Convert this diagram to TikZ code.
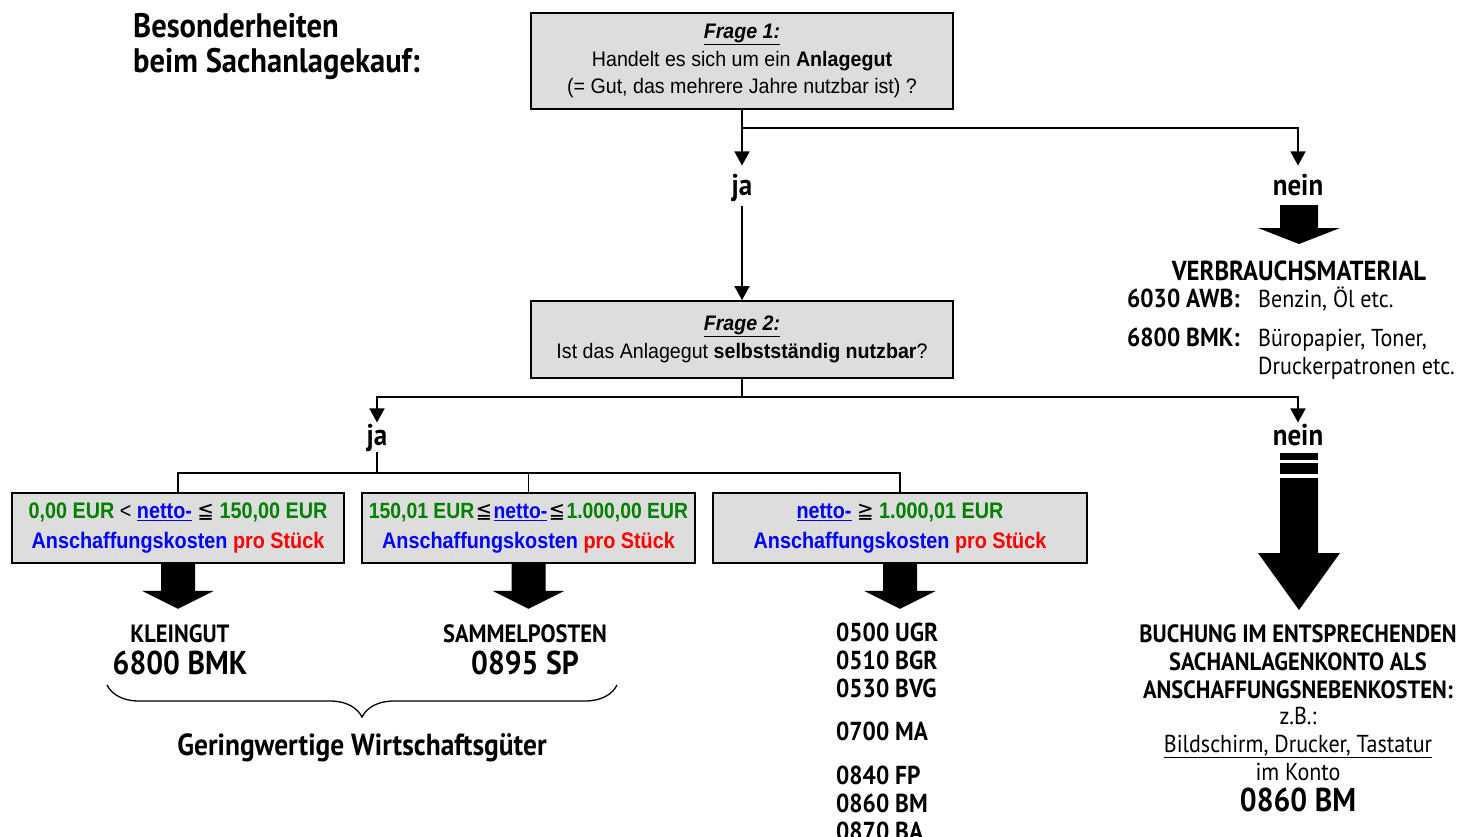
\documentclass[tikz,border=0pt]{standalone}
\usepackage{fontspec}
\setmainfont{Liberation Sans}[FakeStretch=0.88]
\newfontfamily\qfont{Liberation Sans}[FakeStretch=0.935]
\newfontfamily\cond{PT Sans}[FakeStretch=0.9]
\newfontfamily\sym{DejaVu Sans}[FakeStretch=0.88]
\usetikzlibrary{arrows.meta,calc,decorations.pathreplacing}
\definecolor{boxgray}{HTML}{DDDDDD}
\definecolor{mygreen}{HTML}{008000}
\definecolor{myblue}{HTML}{0000FF}
\definecolor{myred}{HTML}{FF0000}
\newcommand\uline[1]{\underline{#1}}
\begin{document}
\begin{tikzpicture}[x=1pt,y=-1pt,
  qbox/.style={draw,line width=1.6pt,fill=boxgray,align=center,inner sep=0pt,
     font=\qfont\fontsize{21}{27.5}\selectfont},
  cbox/.style={draw,line width=1.6pt,fill=boxgray,align=center,inner sep=0pt,
     minimum height=70pt,font=\bfseries\fontsize{22.5}{29.5}\selectfont},
  conn/.style={line width=1.6pt},
  arr/.style={conn,-{Triangle[length=14pt,width=15pt]}},
  lab/.style={font=\cond\bfseries\fontsize{30}{32}\selectfont,inner sep=0pt,anchor=base},
  title/.style={font=\cond\bfseries\fontsize{34}{36}\selectfont,inner sep=0pt,anchor=base west},
  head/.style={font=\cond\bfseries\fontsize{25}{28}\selectfont,inner sep=0pt,anchor=base},
  acc/.style={font=\cond\bfseries\fontsize{26}{28}\selectfont,inner sep=0pt,anchor=base west},
  plain/.style={font=\cond\fontsize{24.5}{28}\selectfont,inner sep=0pt,anchor=base west},
  big/.style={font=\cond\bfseries\fontsize{33}{36}\selectfont,inner sep=0pt,anchor=base},
  blk/.style={fill=black}
]
\useasboundingbox (0,0) rectangle (1473,836);

% title
\node[title] (t1) at (133,37) {Besonderheiten};
\node[title] (t2) at (133,72) {beim Sachanlagekauf:};

% question boxes
\node[qbox,minimum width=422pt,minimum height=96pt] (f1) at (742,61)
  {\textbf{\textit{\uline{Frage 1:}}}\\Handelt es sich um ein \textbf{Anlagegut}\\(= Gut, das mehrere Jahre nutzbar ist) ?};
\node[qbox,minimum width=422pt,minimum height=77pt] (f2) at (742,339.5)
  {\textbf{\textit{\uline{Frage 2:}}}\\Ist das Anlagegut \textbf{selbstständig nutzbar}?};

% level 1 labels
\node[lab] (ja1) at (742,195) {ja};
\node[lab] (nein1) at (1298,195) {nein};
\coordinate (c1) at (742,128);
\draw[arr,shorten >=8pt] (f1.south) -- (ja1.north);
\draw[arr,shorten >=8pt] (c1) -| (nein1.north);
\draw[arr] ($(ja1.south)+(0,5)$) -- (f2.north);

% nein 1 block arrow
\fill[blk] (1280,205) -- (1318,205) -- (1318,228) -- (1340,228) -- (1299,244)
  -- (1258,228) -- (1280,228) -- cycle;
\node[head,font=\cond\bfseries\fontsize{27.5}{30}\selectfont] (verb) at (1299,280) {VERBRAUCHSMATERIAL};
\node[acc] (a6030) at (1127,307) {6030 AWB:};
\node[plain] (benz) at (1258,307) {Benzin, Öl etc.};
\node[acc] (a6800) at (1127,346) {6800 BMK:};
\node[plain] (buero) at (1258,346) {Büropapier, Toner,};
\node[plain] (druck) at (1258,374) {Druckerpatronen etc.};

% level 2
\coordinate (c2) at (742,397);
\node[lab] (ja2) at (377,445) {ja};
\node[lab] (nein2) at (1298,445) {nein};
\draw[conn] (f2.south) -- (c2);
\draw[arr,shorten >=1pt] (c2) -| (ja2.north);
\draw[arr,shorten >=1pt] (c2) -| (nein2.north);

% category boxes
\node[cbox,minimum width=332pt] (b1) at (178,528)
  {\textcolor{mygreen}{0,00 EUR} {\mdseries <} \textcolor{myblue}{\uline{netto-}} {\sym\mdseries ≦} \textcolor{mygreen}{150,00 EUR}\\
   \textcolor{myblue}{Anschaffungskosten} \textcolor{myred}{pro Stück}};
\node[cbox,minimum width=333pt] (b2) at (528.5,528)
  {\fontsize{22}{29.5}\selectfont\textcolor{mygreen}{150,01 EUR}\hspace{1.5pt}{\sym\mdseries ≦}\hspace{1.5pt}\textcolor{myblue}{\uline{netto-}}\hspace{1.5pt}{\sym\mdseries ≦}\hspace{1.5pt}\textcolor{mygreen}{1.000,00 EUR}\\
   \fontsize{22.5}{29.5}\selectfont\textcolor{myblue}{Anschaffungskosten} \textcolor{myred}{pro Stück}};
\node[cbox,minimum width=374pt] (b3) at (900,528)
  {\textcolor{myblue}{\uline{netto-}} {\sym\mdseries ≧} \textcolor{mygreen}{1.000,01 EUR}\\
   \textcolor{myblue}{Anschaffungskosten} \textcolor{myred}{pro Stück}};
\draw[conn] ($(ja2.south)+(0,1)$) -- (377,474);
\draw[conn] (b1.north) -- ++(0,-19) -| (b3.north);
\draw[conn] (b2.north) -- ++(0,-19);

% block arrows under boxes
\foreach \n in {b1,b2,b3}{
  \fill[blk] ($(\n.south)+(-17,0)$) -- ($(\n.south)+(17,0)$) -- ($(\n.south)+(17,27)$)
    -- ($(\n.south)+(36,27)$) -- ($(\n.south)+(0,45)$) -- ($(\n.south)+(-36,27)$)
    -- ($(\n.south)+(-17,27)$) -- cycle;
}

% results
\node[head] (klein) at (180,642) {KLEINGUT};
\node[big] (k6800) at (180,674) {6800 BMK};
\node[head] (samm) at (525,642) {SAMMELPOSTEN};
\node[big] (s0895) at (525,674) {0895 SP};
\draw[line width=1.3pt,decorate,decoration={brace,mirror,amplitude=32pt,aspect=0.5}]
  (107,685) -- (617,685);
\node[big,font=\cond\bfseries\fontsize{30.5}{32}\selectfont] (gwg) at (362,755) {Geringwertige Wirtschaftsgüter};

\node[acc] (k0500) at (836,641) {0500 UGR};
\node[acc] (k0510) at (836,669) {0510 BGR};
\node[acc] (k0530) at (836,697) {0530 BVG};
\node[acc] (k0700) at (836,740) {0700 MA};
\node[acc] (k0840) at (836,784) {0840 FP};
\node[acc] (k0860) at (836,812) {0860 BM};
\node[acc] (k0870) at (836,840) {0870 BA};

% nein 2 arrow
\fill[blk] (1280,453) rectangle (1318,460);
\fill[blk] (1280,463) rectangle (1318,474);
\fill[blk] (1280,478) -- (1318,478) -- (1318,553) -- (1340,553) -- (1299,610)
  -- (1258,553) -- (1280,553) -- cycle;
\node[head] (buch1) at (1298,642) {BUCHUNG IM ENTSPRECHENDEN};
\node[head] (buch2) at (1298,670) {SACHANLAGENKONTO ALS};
\node[head] (buch3) at (1298,698) {ANSCHAFFUNGSNEBENKOSTEN:};
\node[plain,anchor=base] (zb) at (1298,724) {z.B.:};
\node[plain,anchor=base] (bild) at (1298,752) {\uline{Bildschirm, Drucker, Tastatur}};
\node[plain,anchor=base] (imk) at (1298,780) {im Konto};
\node[big] (b0860) at (1298,811) {0860 BM};
\end{tikzpicture}
\end{document}
